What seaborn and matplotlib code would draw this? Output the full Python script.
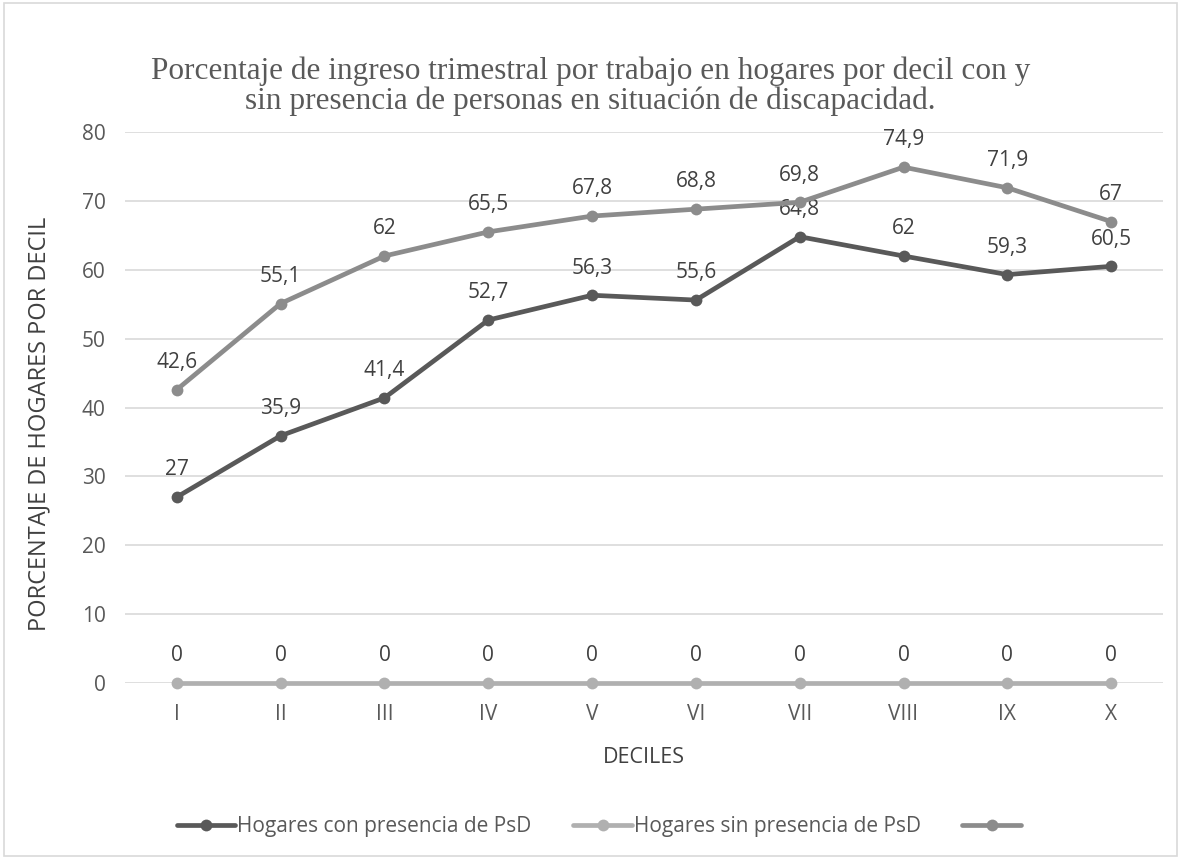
import numpy as np
import pandas as pd
import matplotlib
matplotlib.use("Agg")
import matplotlib.pyplot as plt
import seaborn as sns
from matplotlib.patches import Rectangle

# data
deciles = ["I", "II", "III", "IV", "V", "VI", "VII", "VIII", "IX", "X"]
con_psd = [27, 35.9, 41.4, 52.7, 56.3, 55.6, 64.8, 62, 59.3, 60.5]
sin_psd = [0, 0, 0, 0, 0, 0, 0, 0, 0, 0]
tercera = [42.6, 55.1, 62, 65.5, 67.8, 68.8, 69.8, 74.9, 71.9, 67]

series = [
    ("Hogares con presencia de PsD", con_psd, "#595959"),
    ("Hogares sin presencia de PsD", sin_psd, "#b0b0b0"),
    ("", tercera, "#8c8c8c"),
]

sns.set_theme(style="white")
plt.rcParams["font.family"] = ["Open Sans", "DejaVu Sans"]
txt = "#595959"

fig = plt.figure(figsize=(11.81, 8.59), dpi=100)
ax = fig.add_axes([0.1058, 0.2049, 0.8790, 0.6414])

pos = np.arange(len(deciles))
handles = []
for name, vals, col in series:
    sns.lineplot(x=pos, y=vals, ax=ax, color=col, linewidth=3.4, marker="o",
                 markersize=8.5, markeredgewidth=0, clip_on=False, zorder=3)
    handles.append(ax.lines[-1])
    for x, v in zip(pos, vals):
        lab = f"{v:g}".replace(".", ",")
        ax.annotate(lab, (x, v), xytext=(0, 12), textcoords="offset points",
                    ha="center", va="bottom", fontsize=15, color="#404040")

ax.set_xlim(-0.5, 9.5)
ax.set_ylim(0, 80)
ax.set_yticks(range(0, 81, 10))
ax.set_xticks(pos)
ax.set_xticklabels(deciles)
ax.grid(axis="y", color="#d9d9d9", linewidth=1.2)
ax.set_axisbelow(True)
for s in ax.spines.values():
    s.set_visible(False)
ax.tick_params(axis="both", length=0, labelsize=15, colors=txt, pad=14)
ax.tick_params(axis="x", pad=15)
ax.set_xlabel("DECILES", fontsize=15.5, color="#404040", labelpad=16)
ax.set_ylabel("PORCENTAJE DE HOGARES POR DECIL", fontsize=17, color="#404040")
ax.yaxis.set_label_coords(-0.071, 0.47)

fig.text(0.5, 0.90,
         "Porcentaje de ingreso trimestral por trabajo en hogares por decil con y\n"
         "sin presencia de personas en situación de discapacidad.",
         ha="center", va="center", fontsize=22.5, color=txt,
         family=["Liberation Serif", "DejaVu Serif"], linespacing=1.02)

leg = fig.legend(handles, [s[0] for s in series], loc="center",
                 bbox_to_anchor=(0.508, 0.038), ncol=3, frameon=False,
                 fontsize=15, handlelength=2.8, handletextpad=0.1,
                 columnspacing=2.0)
for t in leg.get_texts():
    t.set_color(txt)

fig.patches.append(Rectangle((0.003, 0.003), 0.994, 0.994, transform=fig.transFigure,
                             fill=False, edgecolor="#d9d9d9", linewidth=1.2))

fig.savefig("out.png", dpi=100)
